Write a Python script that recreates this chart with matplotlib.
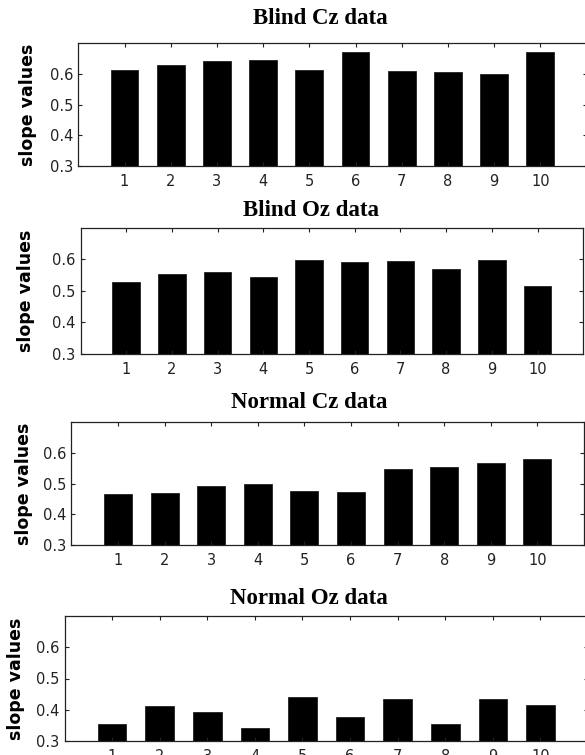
import matplotlib
from matplotlib import pyplot as plt

matplotlib.use('Agg')

trials = list(range(1, 11))
blind_cz = [0.614, 0.628, 0.641, 0.646, 0.614, 0.671, 0.611, 0.606, 0.601, 0.672]
blind_oz = [0.527, 0.552, 0.560, 0.543, 0.598, 0.590, 0.595, 0.569, 0.598, 0.514]
normal_cz = [0.466, 0.470, 0.493, 0.498, 0.476, 0.471, 0.548, 0.552, 0.565, 0.578]
normal_oz = [0.355, 0.411, 0.394, 0.343, 0.441, 0.376, 0.433, 0.354, 0.433, 0.415]
titles = ['Blind Cz data', 'Blind Oz data', 'Normal Cz data', 'Normal Oz data']
y_ticks = [0.3, 0.4, 0.5, 0.6]

W, H = 585, 755
fig = plt.figure(figsize=(W / 100, H / 100), dpi=100)

# pixel boxes (left, right, top, bottom) of each panel, title centre, label edge
boxes = [(78.3, 586.5, 43.3, 166), (80.5, 583.2, 227.7, 354),
         (71.3, 584, 421.7, 545.3), (64.5, 588, 616, 741)]
title_pos = [(320, 19), (311, 211), (309, 402), (309, 598)]
label_x = [37, 35, 33, 25]

series = [blind_cz, blind_oz, normal_cz, normal_oz]
for values, title, (l, r, t, b), (tx, ty), lx in zip(series, titles, boxes, title_pos, label_x):
    ax = fig.add_axes([l / W, 1 - b / H, (r - l) / W, (b - t) / H])
    ax.bar(trials, values, width=0.6, color='black', edgecolor='#222222', linewidth=0.6)
    ax.set_xlim(0, 11)
    ax.set_ylim(0.3, 0.7)
    ax.set_xticks(trials)
    ax.set_yticks(y_ticks)
    ax.set_yticklabels([f'{v:.1f}' for v in y_ticks])
    ax.tick_params(direction='in', length=3, width=0.8, top=True, right=True,
                   labelsize=10.5, colors='#222222')
    ax.tick_params(axis='x', pad=5.5)
    ax.tick_params(axis='y', pad=3.5)
    for s in ax.spines.values():
        s.set_linewidth(0.9)
        s.set_color('#222222')
    ax.set_ylabel('slope values', fontsize=12.5, fontweight='bold', family='DejaVu Sans')
    ax.yaxis.set_label_coords((lx - l) / (r - l), 0.5)
    fig.text(tx / W, 1 - ty / H, title, ha='center', va='center',
             family='Liberation Serif', fontweight='bold', fontsize=16.5)

plt.savefig('out.png', format='png', dpi=100)
plt.clf()
